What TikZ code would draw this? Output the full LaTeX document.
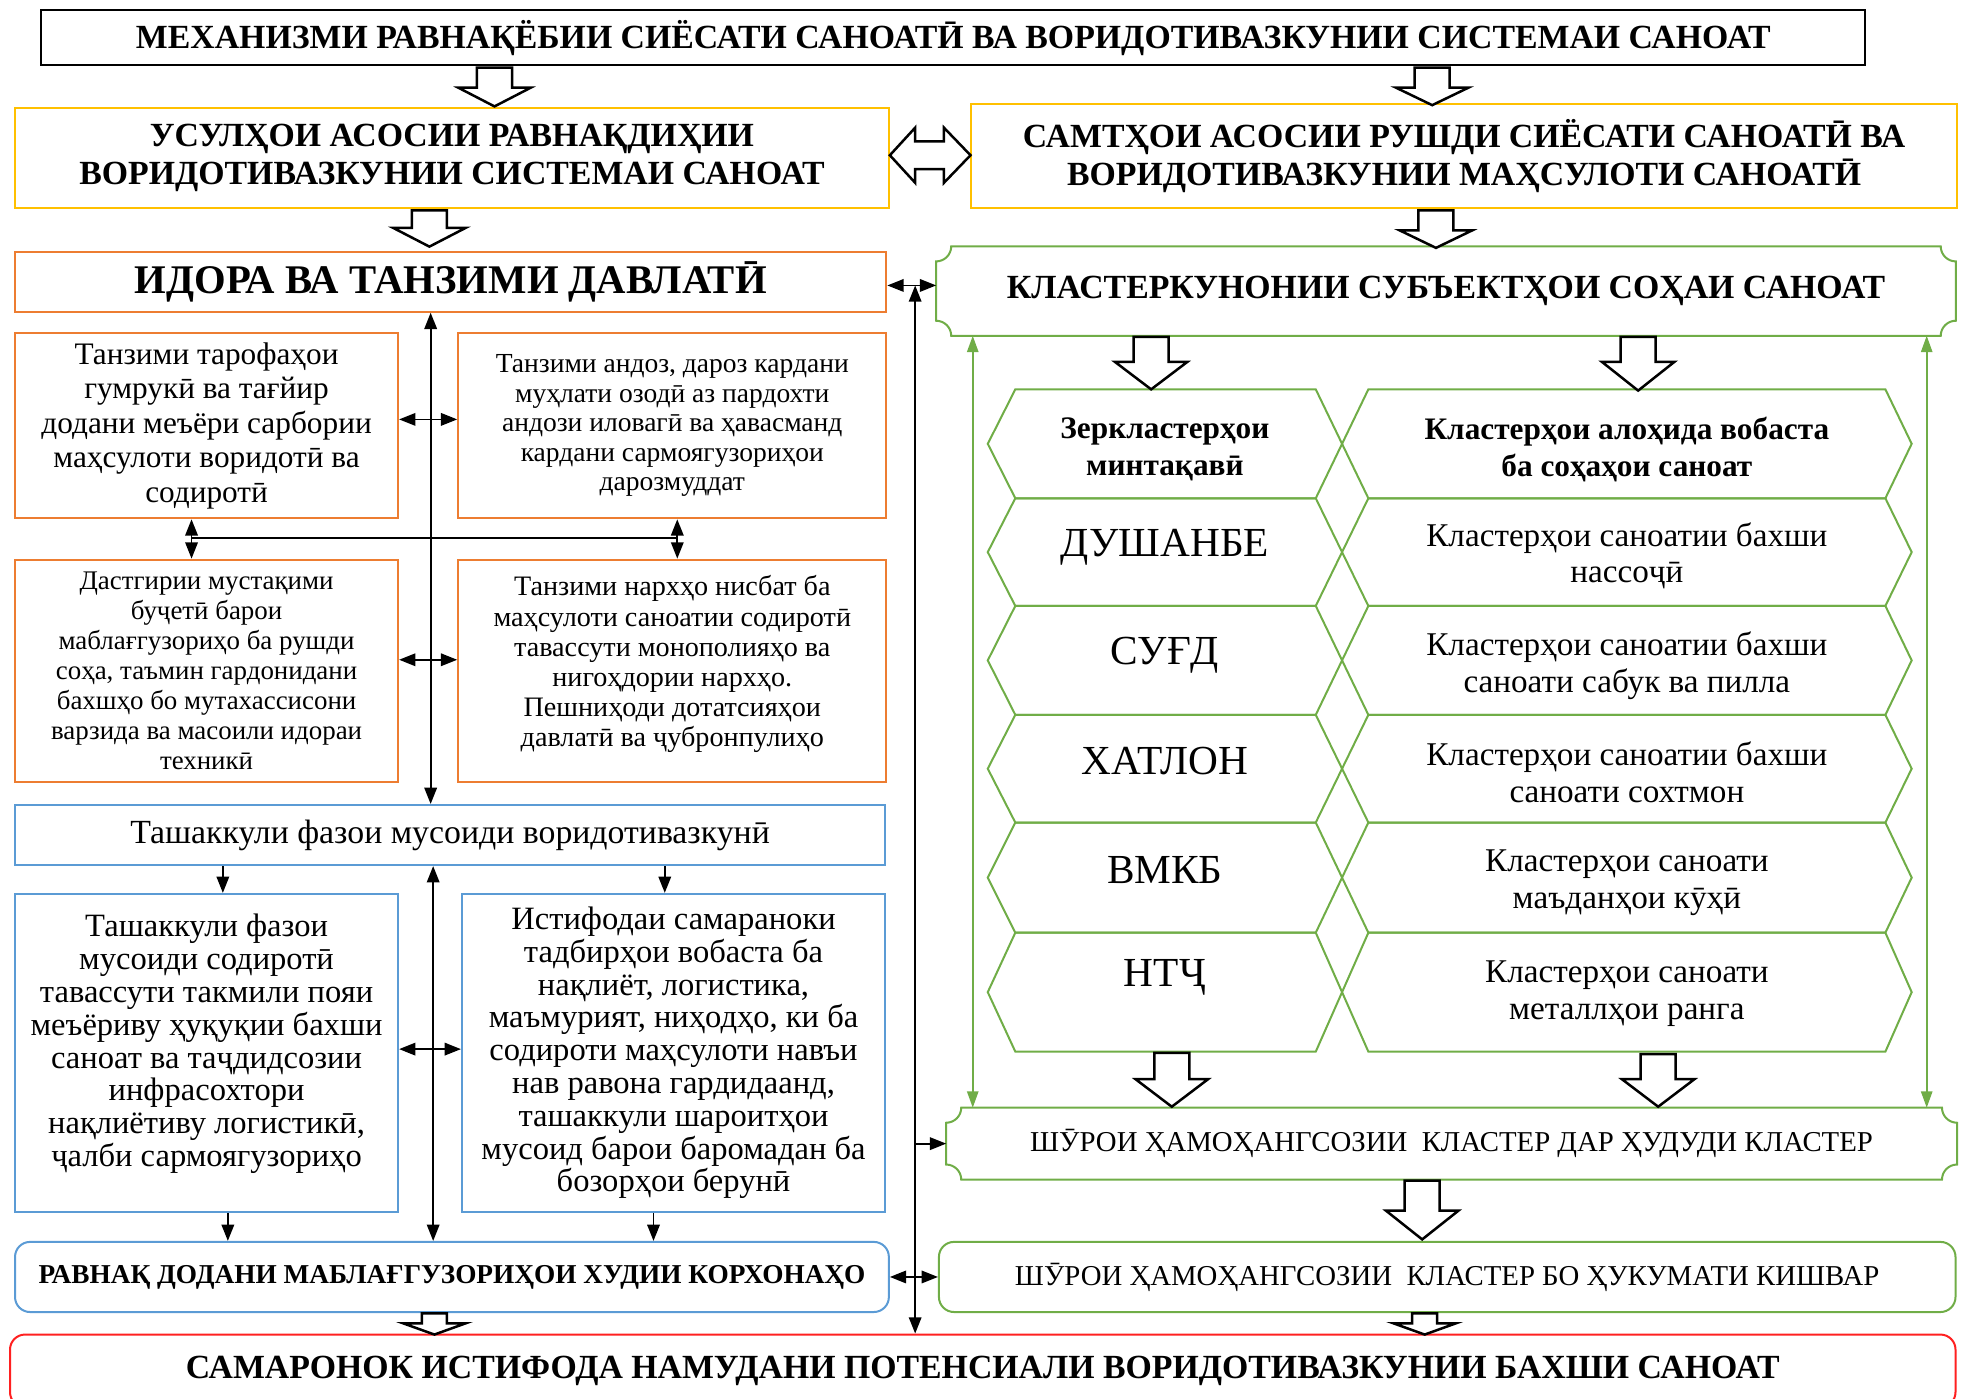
\documentclass[tikz,border=0pt]{standalone}
\usepackage{fontspec}
\setmainfont{Liberation Serif}
\usetikzlibrary{arrows.meta}

\newcommand{\setfs}[2]{\fontsize{#1}{#2}\selectfont}
% hollow block arrow pointing down: x, top, head start, tip
\newcommand{\blockdown}[4]{\draw[blockarrow] (#1-14,#2) -- (#1+14,#2) -- (#1+14,#3) -- (#1+29,#3) -- (#1,#4) -- (#1-29,#3) -- (#1-14,#3) -- cycle;}
% box outline with concave corners
\newcommand{\plaque}[2]{\draw[#2] ([xshift=12pt]#1.north west) -- ([xshift=-12pt]#1.north east)
  .. controls ([xshift=-12pt,yshift=-6.6pt]#1.north east) and ([xshift=-6.6pt,yshift=-12pt]#1.north east) .. ([yshift=-12pt]#1.north east)
  -- ([yshift=12pt]#1.south east)
  .. controls ([xshift=-6.6pt,yshift=12pt]#1.south east) and ([xshift=-12pt,yshift=6.6pt]#1.south east) .. ([xshift=-12pt]#1.south east)
  -- ([xshift=12pt]#1.south west)
  .. controls ([xshift=12pt,yshift=6.6pt]#1.south west) and ([xshift=6.6pt,yshift=12pt]#1.south west) .. ([yshift=12pt]#1.south west)
  -- ([yshift=-12pt]#1.north west)
  .. controls ([xshift=6.6pt,yshift=-12pt]#1.north west) and ([xshift=12pt,yshift=-6.6pt]#1.north west) .. ([xshift=12pt]#1.north west) -- cycle;}
% two hexagons of one row: top, bottom
\newcommand{\hexpair}[2]{%
  \draw[hexline] (789,{(#1+#2)/2}) -- (811,#1) -- (1051,#1) -- (1072,{(#1+#2)/2}) -- (1051,#2) -- (811,#2) -- cycle;
  \draw[hexline] (1072,{(#1+#2)/2}) -- (1093,#1) -- (1506,#1) -- (1527,{(#1+#2)/2}) -- (1506,#2) -- (1093,#2) -- cycle;}

\begin{document}
\begin{tikzpicture}[x=1pt,y=-1pt,
    box/.style={draw,line width=1.6pt,inner sep=2pt,align=center},
    titlebox/.style={box,draw=black},
    yellowbox/.style={box,draw=myyellow},
    orangebox/.style={box,draw=myorange},
    bluebox/.style={box,draw=myblue},
    blueround/.style={box,draw=myblue,rounded corners=12pt},
    greenround/.style={box,draw=mygreen,rounded corners=12pt},
    redround/.style={box,draw=myred,rounded corners=12pt},
    plaquebox/.style={align=center,inner sep=0pt},
    greenline/.style={draw=mygreen,line width=1.6pt},
    hexline/.style={draw=mygreen,line width=1.6pt},
    hextext/.style={align=center,inner sep=0pt},
    regname/.style={hextext,font=\setfs{33}{36}},
    sectext/.style={hextext,font=\setfs{26.5}{29.5}},
    blockarrow/.style={draw=black,fill=white,line width=2pt,line join=miter},
    link/.style={line width=1.4pt,{Triangle[length=13pt,width=10pt]}-{Triangle[length=13pt,width=10pt]}},
    linkto/.style={line width=1.4pt,-{Triangle[length=13pt,width=10pt]}},
    glink/.style={draw=mygreen,line width=1.4pt,{Triangle[length=13pt,width=9pt]}-{Triangle[length=13pt,width=9pt]}}]
\definecolor{myyellow}{HTML}{FFC000}
\definecolor{myorange}{HTML}{ED7D31}
\definecolor{myblue}{HTML}{5B9BD5}
\definecolor{mygreen}{HTML}{70AD47}
\definecolor{myred}{HTML}{FF2020}
\useasboundingbox (0,0) rectangle (1568,1117);

% top row
\node[titlebox,minimum width=1457,minimum height=44,font=\setfs{27}{31}\bfseries] (mech) at (761.5,30) {МЕХАНИЗМИ РАВНАҚЁБИИ СИЁСАТИ САНОАТӢ ВА ВОРИДОТИВАЗКУНИИ СИСТЕМАИ САНОАТ};
\node[yellowbox,minimum width=698,minimum height=80,font=\setfs{27}{30.5}\bfseries] (usul) at (361,126) {УСУЛҲОИ АСОСИИ РАВНАҚДИҲИИ\\ВОРИДОТИВАЗКУНИИ СИСТЕМАИ САНОАТ};
\node[yellowbox,minimum width=787,minimum height=83,font=\setfs{27}{30.5}\bfseries] (samt) at (1169.5,124.5) {САМТҲОИ АСОСИИ РУШДИ СИЁСАТИ САНОАТӢ ВА\\ВОРИДОТИВАЗКУНИИ МАҲСУЛОТИ САНОАТӢ};

% left column
\node[orangebox,minimum width=696,minimum height=48,font=\setfs{32.5}{38}\bfseries] (idora) at (360,225) {ИДОРА ВА ТАНЗИМИ ДАВЛАТӢ};
\node[orangebox,minimum width=306,minimum height=148,font=\setfs{25}{27.5}] (tarof) at (165,340) {Танзими тарофаҳои\\гумрукӣ ва тағйир\\додани меъёри сарбории\\маҳсулоти воридотӣ ва\\содиротӣ};
\node[orangebox,minimum width=342,minimum height=148,font=\setfs{22}{23.5}] (andoz) at (537,340) {Танзими андоз, дароз кардани\\муҳлати озодӣ аз пардохти\\андози иловагӣ ва ҳавасманд\\кардани сармоягузориҳои\\дарозмуддат};
\node[orangebox,minimum width=306,minimum height=178,font=\setfs{21.5}{24}] (budjet) at (165,536) {Дастгирии мустақими\\буҷетӣ барои\\маблағгузориҳо ба рушди\\соҳа, таъмин гардонидани\\бахшҳо бо мутахассисони\\варзида ва масоили идораи\\техникӣ};
\node[orangebox,minimum width=342,minimum height=178,font=\setfs{22.5}{24},text depth=16pt] (narkh) at (537,536) {Танзими нархҳо нисбат ба\\маҳсулоти саноатии содиротӣ\\тавассути монополияҳо ва\\нигоҳдории нархҳо.\\Пешниҳоди дотатсияҳои\\давлатӣ ва ҷубронпулиҳо};
\node[bluebox,minimum width=695,minimum height=48,font=\setfs{27}{30}] (tash) at (359.5,667) {Ташаккули фазои мусоиди воридотивазкунӣ};
\node[bluebox,minimum width=306,minimum height=254,font=\setfs{26}{26.2},text depth=20pt] (sodir) at (165,841) {Ташаккули фазои\\мусоиди содиротӣ\\тавассути такмили пояи\\меъёриву ҳуқуқии бахши\\саноат ва таҷдидсозии\\инфрасохтори\\нақлиётиву логистикӣ,\\ҷалби сармоягузориҳо};
\node[bluebox,minimum width=338,minimum height=254,font=\setfs{26}{26.2}] (istif) at (538,841) {Истифодаи самараноки\\тадбирҳои вобаста ба\\нақлиёт, логистика,\\маъмурият, ниҳодҳо, ки ба\\содироти маҳсулоти навъи\\нав равона гардидаанд,\\ташаккули шароитҳои\\мусоид барои баромадан ба\\бозорҳои берунӣ};
\node[blueround,minimum width=698,minimum height=56,font=\setfs{21.8}{25}\bfseries] (ravnaq) at (361,1020) {РАВНАҚ ДОДАНИ МАБЛАҒГУЗОРИҲОИ ХУДИИ КОРХОНАҲО};

% right column
\node[plaquebox,minimum width=814,minimum height=71,font=\setfs{27}{32}\bfseries] (klaster) at (1155,232.5) {КЛАСТЕРКУНОНИИ СУБЪЕКТҲОИ СОҲАИ САНОАТ};
\plaque{klaster}{greenline}
\hexpair{311}{398}
\hexpair{398}{484}
\hexpair{484}{571}
\hexpair{571}{657}
\hexpair{657}{745}
\hexpair{745}{840}
\node[hextext,font=\setfs{25}{29.5}\bfseries] (reg1) at (930.5,359) {Зеркластерҳои\\минтақавӣ};
\node[hextext,font=\setfs{25}{29.5}\bfseries] (sec1) at (1299.5,359) {Кластерҳои алоҳида вобаста\\ба соҳаҳои саноат};
\node[regname] (reg2) at (930.5,437) {ДУШАНБЕ};
\node[sectext] (sec2) at (1299.5,444) {Кластерҳои саноатии бахши\\нассоҷӣ};
\node[regname] (reg3) at (930.5,523) {СУҒД};
\node[sectext] (sec3) at (1299.5,532) {Кластерҳои саноатии бахши\\саноати сабук ва пилла};
\node[regname] (reg4) at (930.5,608) {ХАТЛОН};
\node[sectext] (sec4) at (1299.5,617) {Кластерҳои саноатии бахши\\саноати сохтмон};
\node[regname] (reg5) at (930.5,695) {ВМКБ};
\node[sectext] (sec5) at (1299.5,705) {Кластерҳои саноати\\маъданҳои кӯҳӣ};
\node[regname] (reg6) at (930.5,781) {НТҶ};
\node[sectext] (sec6) at (1299.5,794) {Кластерҳои саноати\\металлҳои ранга};
\node[plaquebox,minimum width=807,minimum height=57,font=\setfs{23}{26}] (shurodar) at (1159.5,913.5) {ШӮРОИ ҲАМОҲАНГСОЗИИ\ \ КЛАСТЕР ДАР ҲУДУДИ КЛАСТЕР};
\plaque{shurodar}{greenline}
\node[greenround,minimum width=812,minimum height=56,font=\setfs{23}{26}] (shurobo) at (1156,1020) {ШӮРОИ ҲАМОҲАНГСОЗИИ\ \ КЛАСТЕР БО ҲУКУМАТИ КИШВАР};

% bottom
\node[redround,minimum width=1554,minimum height=58,font=\setfs{27}{31}\bfseries] (samar) at (785,1095) {САМАРОНОК ИСТИФОДА НАМУДАНИ ПОТЕНСИАЛИ ВОРИДОТИВАЗКУНИИ БАХШИ САНОАТ};

% hollow arrows
\blockdown{395}{54}{70}{85}
\blockdown{1144}{54}{70}{84}
\blockdown{343}{168}{182}{197}
\blockdown{1147}{168}{184}{198}
\blockdown{919.5}{269}{289}{311}
\blockdown{1308.5}{269}{289}{312}
\blockdown{936}{841}{862}{884}
\blockdown{1324.5}{842}{862}{884}
\blockdown{1136}{943}{967}{990}
\draw[blockarrow] (347-10,1049) -- (347+10,1049) -- (347+10,1057) -- (347+25,1057) -- (347,1066) -- (347-25,1057) -- (347-10,1057) -- cycle;
\draw[blockarrow] (1138-10,1049) -- (1138+10,1049) -- (1138+10,1057) -- (1138+25,1057) -- (1138,1066) -- (1138-25,1057) -- (1138-10,1057) -- cycle;
\draw[blockarrow] (usul.east |- 0,124) -- (731,102) -- (731,113) -- (754,113) -- (754,102) -- (samt.west |- 0,124) -- (754,146) -- (754,135) -- (731,135) -- (731,146) -- cycle;

% thin connectors
\coordinate (mid) at (344,0);
\coordinate (mid2) at (346,0);
\coordinate (vline) at (731,0);
\coordinate (gl) at (777,0);
\coordinate (gr) at (1539,0);
\coordinate (cl) at (153,430);
\coordinate (cr) at (541,430);
\draw[link] (idora.south -| mid) -- (tash.north -| mid);
\draw[link] (tarof.east |- 0,335) -- (andoz.west |- 0,335);
\draw[link] (budjet.east |- 0,527) -- (narkh.west |- 0,527);
\draw[link] (tarof.south -| cl) -- (budjet.north -| cl);
\draw[link] (andoz.south -| cr) -- (narkh.north -| cr);
\draw[line width=1.4pt] (cl) -- (cr);
\draw[linkto] (tash.south -| 178,0) -- (sodir.north -| 178,0);
\draw[linkto] (tash.south -| 531,0) -- (istif.north -| 531,0);
\draw[link] (tash.south -| mid2) -- (ravnaq.north -| mid2);
\draw[link] (sodir.east |- 0,838) -- (istif.west |- 0,838);
\draw[linkto] (sodir.south -| 182,0) -- (ravnaq.north -| 182,0);
\draw[linkto] (istif.south -| 522,0) -- (ravnaq.north -| 522,0);
\draw[link] (idora.east |- 0,228) -- (klaster.west |- 0,228);
\draw[link] (vline |- 0,228) -- (vline |- samar.north);
\draw[linkto] (vline |- shurodar.west) -- (shurodar.west);
\draw[link] (ravnaq.east) -- (shurobo.west);
\draw[glink] (klaster.south -| gl) -- (shurodar.north -| gl);
\draw[glink] (klaster.south -| gr) -- (shurodar.north -| gr);
\end{tikzpicture}
\end{document}
